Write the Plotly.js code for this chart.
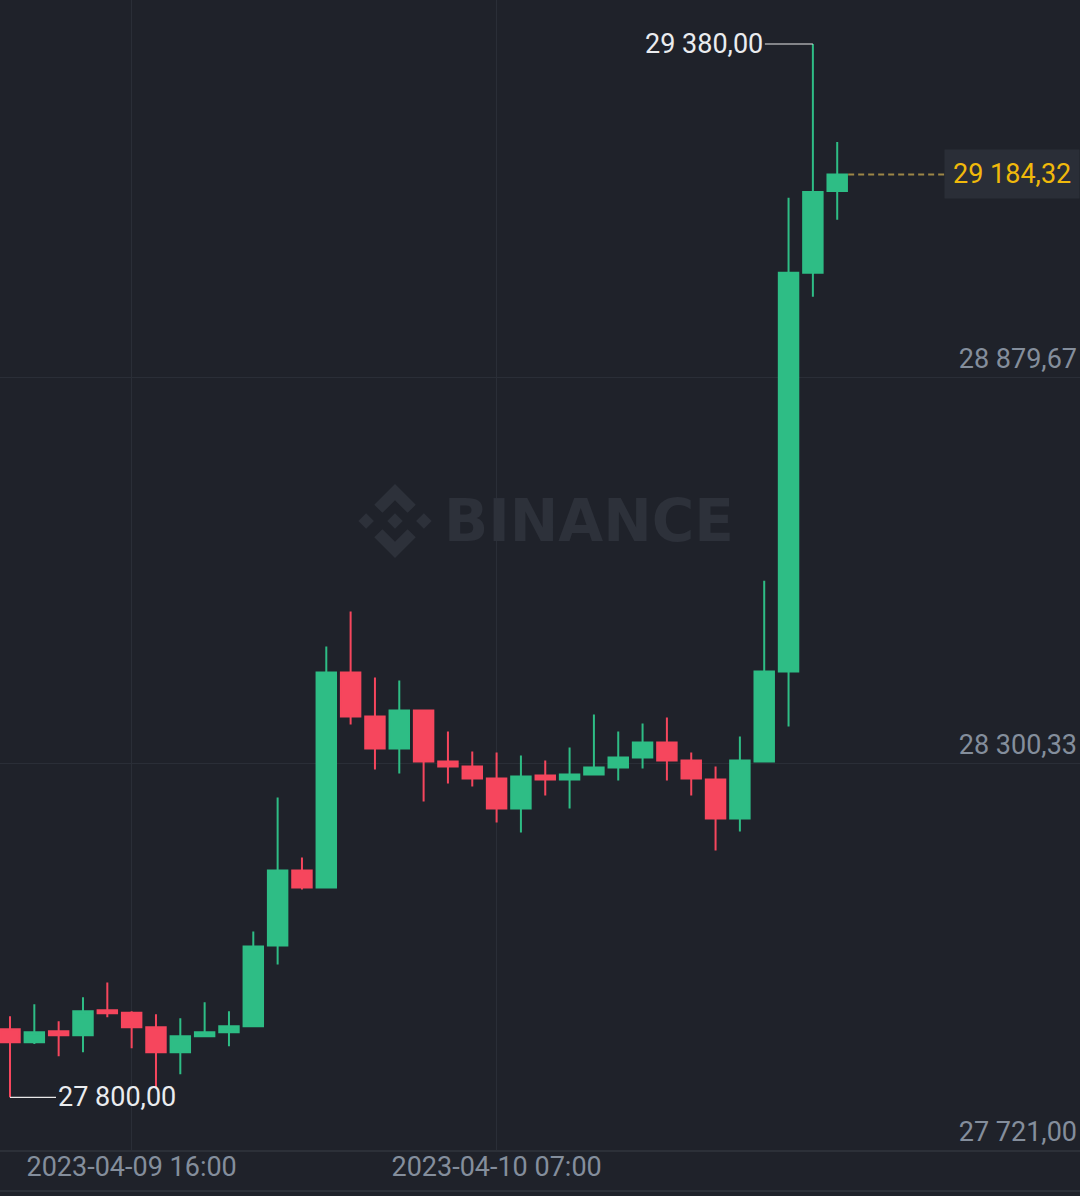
<!DOCTYPE html>
<html>
<head>
<meta charset="utf-8">
<script src="https://cdn.plot.ly/plotly-3.0.1.min.js"></script>
<style>
  html, body { margin: 0; padding: 0; background: #1f222a; }
  #chart { width: 1080px; height: 1196px; }
</style>
</head>
<body>
<div id="chart"></div>
<script>
const times = [
  '2023-04-09 11:00','2023-04-09 12:00','2023-04-09 13:00','2023-04-09 14:00','2023-04-09 15:00',
  '2023-04-09 16:00','2023-04-09 17:00','2023-04-09 18:00','2023-04-09 19:00','2023-04-09 20:00',
  '2023-04-09 21:00','2023-04-09 22:00','2023-04-09 23:00','2023-04-10 00:00','2023-04-10 01:00',
  '2023-04-10 02:00','2023-04-10 03:00','2023-04-10 04:00','2023-04-10 05:00','2023-04-10 06:00',
  '2023-04-10 07:00','2023-04-10 08:00','2023-04-10 09:00','2023-04-10 10:00','2023-04-10 11:00',
  '2023-04-10 12:00','2023-04-10 13:00','2023-04-10 14:00','2023-04-10 15:00','2023-04-10 16:00',
  '2023-04-10 17:00','2023-04-10 18:00','2023-04-10 19:00','2023-04-10 20:00','2023-04-10 21:00'
];
const openP = [
  27902.0,27882.5,27899.0,27893.0,27930.5,27927.0,27905.0,27867.5,27891.5,27897.5,
  27906.5,28027.9,28140.3,28114.8,28437.1,28371.2,28323.2,28380.2,28303.7,28296.2,
  28278.2,28233.3,28282.7,28276.7,28284.2,28294.7,28309.7,28332.2,28305.2,28276.7,
  28218.3,28303.7,28438.6,29036.7,29159.6
];
const highP = [
  27921.5,27939.5,27914.0,27950.0,27972.4,27929.0,27924.5,27918.5,27942.5,27929.0,
  28048.9,28249.8,28159.8,28476.1,28528.6,28429.6,28425.1,28380.2,28348.7,28318.7,
  28317.2,28312.7,28305.2,28324.7,28374.2,28348.7,28360.7,28369.7,28317.2,28296.2,
  28341.2,28575.0,29149.2,29380.0,29233.1
];
const lowP = [
  27800.0,27880.0,27861.5,27867.5,27920.0,27873.5,27815.0,27834.5,27891.5,27876.5,
  27906.5,27999.4,28111.8,28114.8,28359.2,28291.7,28285.7,28243.8,28270.7,28266.2,
  28212.3,28197.3,28252.8,28233.3,28284.2,28275.2,28293.2,28275.2,28252.8,28170.3,
  28198.8,28303.7,28356.2,29000.8,29116.2
];
const closeP = [
  27882.5,27897.5,27893.0,27929.0,27926.0,27905.0,27867.5,27891.5,27897.5,27906.5,
  28026.4,28140.3,28114.8,28437.1,28371.2,28323.2,28380.2,28303.7,28296.2,28278.2,
  28233.3,28281.2,28276.7,28284.2,28294.7,28309.7,28332.2,28305.2,28278.2,28218.3,
  28305.2,28438.6,29036.7,29158.1,29184.32
];
const yTickVals = [27721.00, 28300.33, 28879.67];
const xTickVals = ['2023-04-09 16:00', '2023-04-10 07:00'];
const highLabel = '29 380,00';
const lowLabel = '27 800,00';
const lastLabel = '29 184,32';

const BG = '#1f222a';
const GRID = '#2a2e37';
const UP = '#2ebd85';
const DOWN = '#f6465d';
const WM = '#2d313a';

// helpers for decoration in pixel space -> paper
const W = 1080, H = 1150;
const px = v => v / W;
const py = v => 1 - v / H;

function poly(pts) {
  return 'M' + pts.map(p => px(p[0]) + ',' + py(p[1])).join(' L') + ' Z';
}
// Binance-like watermark logo centred at (cx, cy), half size s
function logoShapes(cx, cy, s) {
  const P = (a, b) => [cx + a * s, cy + b * s];
  const d = 0.21;
  const pieces = [
    [P(0, -d), P(d, 0), P(0, d), P(-d, 0)],
    [P(-0.78, -d), P(-0.78 + d, 0), P(-0.78, d), P(-0.78 - d, 0)],
    [P(0.78, -d), P(0.78 + d, 0), P(0.78, d), P(0.78 - d, 0)],
    [P(0, -1), P(0.56, -0.44), P(0.34, -0.22), P(0, -0.56), P(-0.34, -0.22), P(-0.56, -0.44)],
    [P(0, 1), P(0.56, 0.44), P(0.34, 0.22), P(0, 0.56), P(-0.34, 0.22), P(-0.56, 0.44)]
  ];
  return pieces.map(pts => ({
    type: 'path', xref: 'paper', yref: 'paper', path: poly(pts),
    fillcolor: WM, line: { width: 0 }, layer: 'below'
  }));
}

const trace = {
  type: 'candlestick',
  x: times, open: openP, high: highP, low: lowP, close: closeP,
  increasing: { line: { color: UP, width: 2 }, fillcolor: UP },
  decreasing: { line: { color: DOWN, width: 2 }, fillcolor: DOWN },
  whiskerwidth: 0,
  hoverinfo: 'skip',
  showlegend: false
};

const lastIdx = times.length - 1;
const lastT = new Date(times[lastIdx].replace(' ', 'T') + ':00Z');
const fmt = d => d.toISOString().slice(0, 19).replace('T', ' ');
const dashStart = fmt(new Date(lastT.getTime() + 0.45 * 3600e3));
const dashEnd = fmt(new Date(lastT.getTime() + 4.6 * 3600e3));

const shapes = [
  ...logoShapes(395, 521, 37),
  { type: 'line', xref: 'x', yref: 'y', x0: dashStart, x1: dashEnd,
    y0: closeP[lastIdx], y1: closeP[lastIdx],
    line: { color: 'rgba(200,170,80,0.75)', width: 2, dash: '6px,4px' } },
  { type: 'line', xref: 'paper', yref: 'paper', x0: 0, x1: 1,
    y0: -41 / H, y1: -41 / H, line: { color: '#2c3038', width: 2 } }
];

const annotations = [
  { x: 0.545, y: py(521), xref: 'paper', yref: 'paper', text: 'BINANCE',
    showarrow: false, xanchor: 'center', yanchor: 'middle',
    font: { family: 'DejaVu Sans', size: 58, color: WM, weight: 'bold' } },
  { x: times[33], y: highP[33], xref: 'x', yref: 'y', text: highLabel,
    showarrow: true, arrowhead: 0, arrowwidth: 1.2, arrowcolor: '#e8e8e8',
    ax: -48, ay: 0, xanchor: 'right', standoff: 0, borderpad: 1,
    font: { family: 'Roboto', size: 27, color: '#eaecef' } },
  { x: times[0], y: lowP[0], xref: 'x', yref: 'y', text: lowLabel,
    showarrow: true, arrowhead: 0, arrowwidth: 1.2, arrowcolor: '#e8e8e8',
    ax: 46, ay: 0, xanchor: 'left', standoff: 0, borderpad: 1,
    font: { family: 'Roboto', size: 27, color: '#eaecef' } },
  { x: 1, y: closeP[lastIdx], xref: 'paper', yref: 'y', text: lastLabel,
    showarrow: false, xanchor: 'right', yanchor: 'middle',
    bgcolor: '#2a2e37', borderpad: 8,
    font: { family: 'Roboto', size: 27, color: '#f0b90b' } }
];

const layout = {
  width: 1080, height: 1196,
  margin: { l: 0, r: 0, t: 0, b: 46 },
  paper_bgcolor: BG, plot_bgcolor: BG,
  separators: ', ',
  boxgap: 0.2, boxgroupgap: 0,
  showlegend: false,
  dragmode: false,
  xaxis: {
    type: 'date',
    range: ['2023-04-09 10:35:20', '2023-04-11 06:58:45'],
    rangeslider: { visible: false },
    tickvals: xTickVals,
    tickformat: '%Y-%m-%d %H:%M',
    ticks: '', showgrid: true, gridcolor: GRID, gridwidth: 1,
    showline: true, linecolor: '#2c3038', linewidth: 2,
    zeroline: false,
    ticklabelstandoff: -8,
    tickfont: { family: 'Roboto', size: 27, color: '#848e9c' }
  },
  yaxis: {
    range: [27721, 29446],
    side: 'right',
    ticklabelposition: 'inside top',
    tickvals: yTickVals,
    tickformat: ',.2f',
    ticks: '', showgrid: true, gridcolor: GRID, gridwidth: 1,
    zeroline: false, showline: false,
    tickfont: { family: 'Roboto', size: 27, color: '#848e9c' }
  },
  shapes: shapes,
  annotations: annotations
};

Plotly.newPlot('chart', [trace], layout, { displayModeBar: false, staticPlot: true });
</script>
</body>
</html>
